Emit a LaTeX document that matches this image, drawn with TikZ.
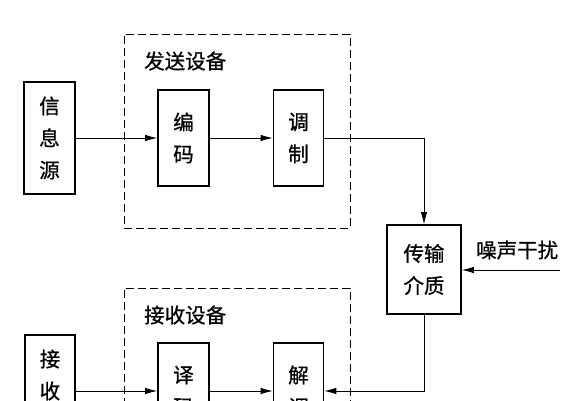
\documentclass[tikz,border=0pt]{standalone}
\usepackage{fontspec}
\setmainfont[FakeBold=0.8]{Noto Sans CJK SC}
\usetikzlibrary{arrows.meta}
\begin{document}
\begin{tikzpicture}[x=1pt,y=-1pt,
  blk/.style={draw,line width=1.6pt,inner sep=0pt,align=center,
    font=\fontsize{20.5}{32}\selectfont},
  grp/.style={draw,line width=1pt,dash pattern=on 8pt off 4pt,inner sep=0pt},
  lbl/.style={anchor=west,inner sep=0pt,font=\fontsize{20.5}{32}\selectfont},
  arr/.style={line width=0.9pt,-{Latex[length=12pt,width=6.5pt]}}]
\useasboundingbox (0,0) rectangle (582,400);
\clip (0,0) rectangle (582,400);
% groups
\node[grp,minimum width=226pt,minimum height=194pt] (tx) at (237,131) {};
\node[grp,minimum width=226pt,minimum height=194pt] (rx) at (237,385) {};
\node[lbl] (txl) at (144,61) {发送设备};
\node[lbl] (rxl) at (144,315) {接收设备};
% top row
\node[blk,minimum width=51pt,minimum height=112pt] (src) at (49.5,138) {信\\息\\源};
\node[blk,minimum width=51pt,minimum height=96pt] (enc) at (183.5,138) {编\\码};
\node[blk,minimum width=50pt,minimum height=96pt] (mod) at (298.5,138) {调\\制};
% medium
\node[blk,minimum width=74pt,minimum height=89pt] (med) at (424,269.5) {传输\\介质};
\node[lbl] (nzl) at (476,250) {噪声干扰};
\coordinate (nz) at (560,270);
% bottom row
\node[blk,minimum width=50pt,minimum height=112pt] (rcv) at (50,391) {接\\收\\者};
\node[blk,minimum width=51pt,minimum height=96pt] (dec) at (183.5,391) {译\\码};
\node[blk,minimum width=50pt,minimum height=96pt] (dem) at (298.5,391) {解\\调};
% connectors
\draw[arr] (src) -- (enc);
\draw[arr] (enc) -- (mod);
\draw[arr] (mod.east) -| (med.north);
\draw[arr] (nz) -- (nz -| med.east);
\draw[arr] (med.south) |- (dem.east);
\draw[arr] (rcv) -- (dec);
\draw[arr] (dec) -- (dem);
\end{tikzpicture}
\end{document}
